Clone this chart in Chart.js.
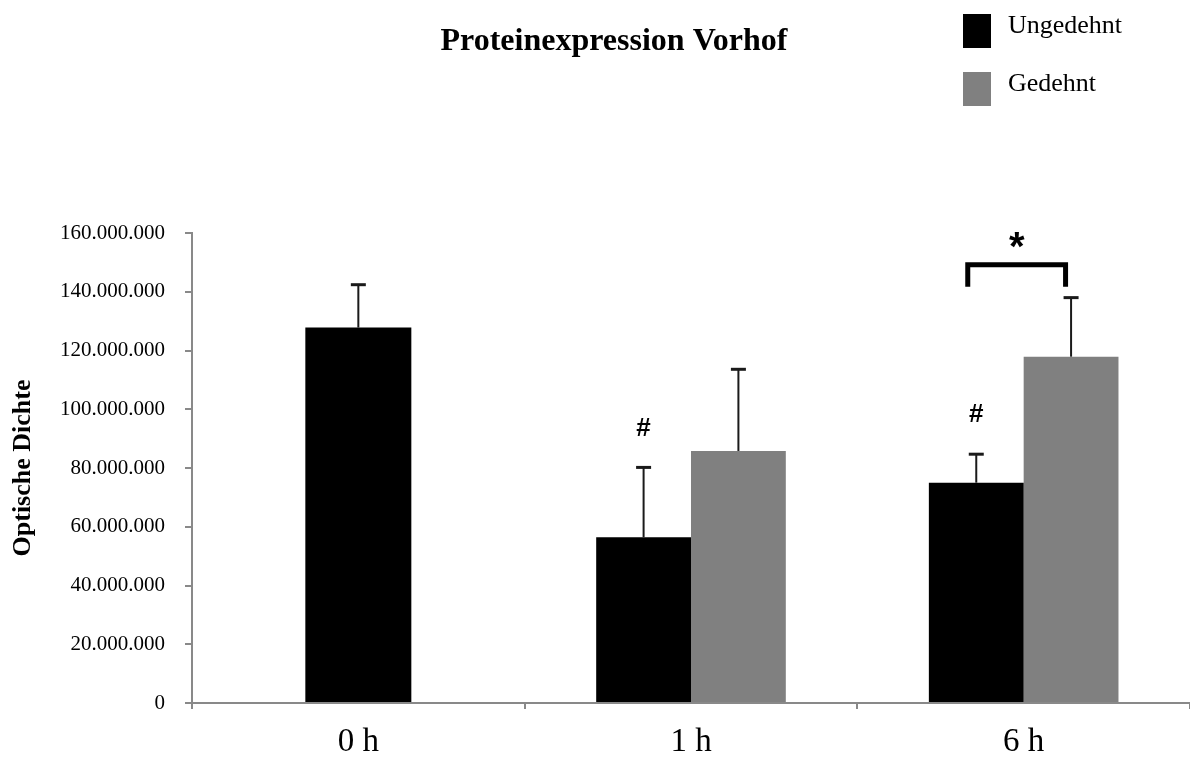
<!DOCTYPE html>
<html>
<head>
<meta charset="utf-8">
<script src="https://cdn.jsdelivr.net/npm/chart.js@4.4.1/dist/chart.umd.min.js"></script>
<style>
  body { margin: 0; background: #fff; }
</style>
</head>
<body>
<canvas id="chart" width="1190" height="761"></canvas>
<script>
const zeiten       = ['0 h', '1 h', '6 h'];
const ungedehnt    = [127800000, 56400000, 75000000];
const ungedehntErr = [14600000, 23800000, 9700000];
const gedehnt      = [null, 85800000, 117900000];
const gedehntErr   = [null, 27800000, 20100000];
const rauten       = ['', '#', '#'];          // Ungedehnt vs 0 h
const sterne       = [false, false, true];    // Ungedehnt vs Gedehnt
const yMax  = 160000000;
const yStep = 20000000;

const SERIF = 'Liberation Serif';
const SANS  = 'Liberation Sans';
const axisGrey = '#898989';

const fmt = v => String(v).replace(/\B(?=(\d{3})+(?!\d))/g, '.');

// Fehlerbalken, Signifikanzzeichen, Titel und Legende
const extras = {
  id: 'extras',
  afterDatasetsDraw(chart) {
    const ctx = chart.ctx;
    const y = chart.scales.y;
    const errs = [ungedehntErr, gedehntErr];
    ctx.save();
    chart.data.datasets.forEach((ds, di) => {
      chart.getDatasetMeta(di).data.forEach((bar, i) => {
        if (ds.data[i] == null || errs[di][i] == null) return;
        const top = y.getPixelForValue(ds.data[i] + errs[di][i]);
        ctx.strokeStyle = '#1a1a1a';
        ctx.lineWidth = 2;
        ctx.beginPath();
        ctx.moveTo(bar.x, bar.y);
        ctx.lineTo(bar.x, top);
        ctx.stroke();
        ctx.lineWidth = 3;
        ctx.beginPath();
        ctx.moveTo(bar.x - 7.5, top);
        ctx.lineTo(bar.x + 7.5, top);
        ctx.stroke();
      });
    });

    const mU = chart.getDatasetMeta(0).data;
    const mG = chart.getDatasetMeta(1).data;
    ctx.fillStyle = '#000';
    ctx.textAlign = 'center';
    ctx.textBaseline = 'middle';
    rauten.forEach((r, i) => {
      if (!r) return;
      const top = y.getPixelForValue(ungedehnt[i] + ungedehntErr[i]);
      ctx.font = 'bold 26px "' + SANS + '"';
      ctx.fillText(r, mU[i].x, top - 39);
    });
    sterne.forEach((s, i) => {
      if (!s) return;
      const top = y.getPixelForValue(gedehnt[i] + gedehntErr[i]);
      const x1 = mU[i].x - 8.5, x2 = mG[i].x - 5.5;
      const yb = top - 33;
      ctx.strokeStyle = '#000';
      ctx.lineWidth = 5;
      ctx.lineJoin = 'miter';
      ctx.beginPath();
      ctx.moveTo(x1, top - 11);
      ctx.lineTo(x1, yb);
      ctx.lineTo(x2, yb);
      ctx.lineTo(x2, top - 11);
      ctx.stroke();
      ctx.font = 'bold 40px "' + SANS + '"';
      ctx.textBaseline = 'alphabetic';
      ctx.fillText('*', (x1 + x2) / 2, yb - 5);
      ctx.textBaseline = 'middle';
    });

    // Titel
    ctx.font = 'bold 32px "' + SERIF + '"';
    ctx.fillText('Proteinexpression Vorhof', 614, 42);

    // Legende
    ctx.textAlign = 'left';
    ctx.font = '26px "' + SERIF + '"';
    chart.data.datasets.forEach((ds, di) => {
      const ly = 14 + di * 58;
      ctx.fillStyle = ds.backgroundColor;
      ctx.fillRect(963, ly, 28, 34);
      ctx.fillStyle = '#000';
      ctx.fillText(ds.label, 1008, ly + 12);
    });
    ctx.restore();
  }
};

new Chart(document.getElementById('chart'), {
  type: 'bar',
  data: {
    labels: zeiten,
    datasets: [
      { label: 'Ungedehnt', data: ungedehnt, backgroundColor: '#000000' },
      { label: 'Gedehnt',   data: gedehnt,   backgroundColor: '#808080' }
    ]
  },
  options: {
    responsive: false,
    animation: false,
    layout: { padding: { top: 233, right: -5, left: 0, bottom: 0 } },
    datasets: { bar: { categoryPercentage: 0.57, barPercentage: 1, maxBarThickness: 106, skipNull: true } },
    plugins: { legend: { display: false }, tooltip: { enabled: false } },
    scales: {
      x: {
        afterFit: s => { s.height = 58; },
        grid: { offset: true, drawOnChartArea: false, tickLength: 6, color: axisGrey, lineWidth: 2 },
        border: { color: axisGrey, width: 2 },
        ticks: { color: '#000', font: { family: SERIF, size: 33 }, padding: 14 }
      },
      y: {
        min: 0, max: yMax,
        afterFit: s => { s.width = 192; },
        grid: { drawOnChartArea: false, tickLength: 7, color: axisGrey, lineWidth: 2 },
        border: { color: axisGrey, width: 2 },
        ticks: { stepSize: yStep, color: '#000', font: { family: SERIF, size: 21 }, padding: 20, callback: v => fmt(v) },
        title: { display: true, text: 'Optische Dichte', color: '#000', font: { family: SERIF, size: 26, weight: 'bold' }, padding: { top: 8, bottom: 0 } }
      }
    }
  },
  plugins: [extras]
});
</script>
</body>
</html>
